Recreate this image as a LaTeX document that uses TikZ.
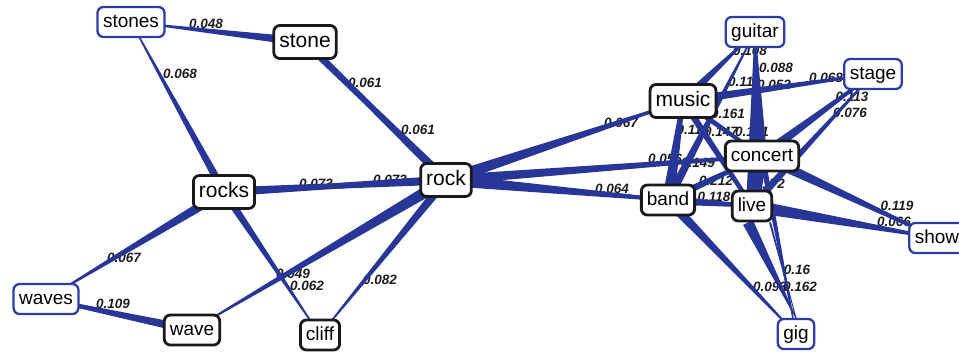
\documentclass[tikz,border=0pt]{standalone}
\usepackage{fontspec}
\setmainfont{Liberation Sans}
\usetikzlibrary{calc}

\definecolor{edgeblue}{RGB}{40,54,152}
\definecolor{rimblue}{RGB}{44,62,164}
\definecolor{rimdark}{RGB}{26,26,26}
\definecolor{labelink}{RGB}{28,28,28}

\pgfdeclarelayer{weights}
\pgfdeclarelayer{links}
\pgfsetlayers{weights,links,main}

% tapered link: #1 start, #2 end, #3 half width at start, #4 half width at end
\newcommand\taper[4]{%
  \fill[edgeblue] ($#1!#3!90:#2$) -- ($#1!#3!-90:#2$) --
                  ($#2!#4!90:#1$) -- ($#2!#4!-90:#1$) -- cycle;}

\tikzset{
  word/.style={rounded corners=6pt, fill=white, inner xsep=5.5pt, inner ysep=0pt,
               minimum height=30pt, text height=14pt, text depth=4pt,
               font=\fontsize{19}{19}\selectfont},
  big/.style={font=\fontsize{21}{21}\selectfont, minimum height=33pt,
              text height=15.5pt, text depth=4.5pt},
  hub/.style={word, draw=rimdark, line width=2.8pt},
  leaf/.style={word, draw=rimblue, line width=2.3pt},
  weight/.style={inner sep=0pt, text=labelink,
                 font=\fontsize{13.5}{13.5}\selectfont\bfseries\itshape}
}

\begin{document}
\begin{tikzpicture}[x=1pt, y=-1pt]
\useasboundingbox (0,0) rectangle (959,354);

% ---------- words ----------
\node[leaf] (stones)  at (131,22)  {stones};
\node[hub,big] (stone) at (305,42) {stone};
\node[hub,big] (rocks) at (224,192) {rocks};
\node[hub,big] (rock)  at (446,180) {rock};
\node[leaf] (waves)   at (46,299) {waves};
\node[hub] (wave)     at (192,330) {wave};
\node[hub] (cliff)    at (320,335) {cliff};
\node[hub,big] (music) at (683,101) {music};
\node[leaf] (guitar)  at (755,32)  {guitar};
\node[leaf] (stage)   at (873,74)  {stage};
\node[hub] (concert)  at (762,156) {concert};
\node[hub] (band)     at (668,200) {band};
\node[hub] (live)     at (752,206) {live};
\node[leaf] (show)    at (937,238) {show};
\node[leaf] (gig)     at (796,334) {gig};

% ---------- links ----------
\begin{pgfonlayer}{links}
\taper{(stones)}{(stone)}{0.4pt}{4.5pt}
\taper{(stones)}{(rocks)}{0.5pt}{4pt}
\taper{(stone)}{(rock)}{1.5pt}{4.5pt}
\taper{(rock)}{(stone)}{1.5pt}{3.8pt}
\taper{(rocks)}{(rock)}{1.2pt}{4.5pt}
\taper{(rock)}{(rocks)}{1.2pt}{4.5pt}
\taper{(rocks)}{(waves)}{5pt}{0.5pt}
\taper{(waves)}{(wave)}{1.5pt}{4.5pt}
\taper{(wave)}{(rock)}{0.5pt}{6pt}
\taper{(rocks)}{(cliff)}{4pt}{0.5pt}
\taper{(cliff)}{(rock)}{0.5pt}{4.5pt}
\taper{(rock)}{(music)}{6pt}{1pt}
\taper{(rock)}{(band)}{6pt}{1.5pt}
\taper{(rock)}{(concert)}{5pt}{1.5pt}

\taper{(guitar)}{(music)}{0.5pt}{4.5pt}
\taper{(guitar)}{(band)}{0.5pt}{4.5pt}
\taper{(guitar)}{(concert)}{0.5pt}{5pt}
\taper{(guitar)}{(live)}{0.5pt}{6pt}
\taper{(music)}{(stage)}{4.5pt}{1pt}
\taper{(concert)}{(stage)}{5pt}{1pt}
\taper{(live)}{(stage)}{4pt}{0.8pt}
\taper{(concert)}{(show)}{5.5pt}{1pt}
\taper{(live)}{(show)}{6.5pt}{1pt}
\taper{(music)}{(concert)}{3pt}{1.5pt}
\taper{(music)}{(live)}{3.5pt}{2pt}
\taper{(band)}{(music)}{6pt}{2pt}
\taper{(band)}{(concert)}{4pt}{1.5pt}
\taper{(band)}{(live)}{4.5pt}{1.5pt}
\taper{(concert)}{(live)}{5pt}{7pt}
\taper{(band)}{(gig)}{5pt}{0.5pt}
\taper{([xshift=-4pt]live.south)}{(gig.north)}{5.5pt}{0.5pt}
\taper{(concert)}{(gig)}{3pt}{0.5pt}
\taper{([xshift=18pt]live.south)}{(gig.north)}{1pt}{0.4pt}
\end{pgfonlayer}

% ---------- weights ----------
\begin{pgfonlayer}{weights}
\node[weight] at (206,24)  {0.048};
\node[weight] at (180,74)  {0.068};
\node[weight] at (365,83)  {0.061};
\node[weight] at (418,130) {0.061};
\node[weight] at (316,184) {0.073};
\node[weight] at (390,180) {0.073};
\node[weight] at (124,258) {0.067};
\node[weight] at (113,304) {0.109};
\node[weight] at (293,274) {0.049};
\node[weight] at (307,286) {0.062};
\node[weight] at (380,280) {0.082};
\node[weight] at (621,123) {0.067};
\node[weight] at (612,189) {0.064};
\node[weight] at (665,159) {0.056};
\node[weight] at (698,163) {0.149};
\node[weight] at (750,51)  {0.108};
\node[weight] at (744,82)  {0.111};
\node[weight] at (776,68)  {0.088};
\node[weight] at (774,85)  {0.052};
\node[weight] at (826,78)  {0.068};
\node[weight] at (852,97)  {0.113};
\node[weight] at (850,113) {0.076};
\node[weight] at (728,114) {0.161};
\node[weight] at (693,130) {0.116};
\node[weight] at (721,132) {0.147};
\node[weight] at (752,132) {0.161};
\node[weight] at (716,181) {0.212};
\node[weight] at (714,197) {0.118};
\node[weight] at (768,184) {0.172};
\node[weight] at (897,206) {0.119};
\node[weight] at (894,222) {0.066};
\node[weight] at (797,270) {0.16};
\node[weight] at (770,287) {0.093};
\node[weight] at (800,287) {0.162};
\end{pgfonlayer}
\end{tikzpicture}
\end{document}
